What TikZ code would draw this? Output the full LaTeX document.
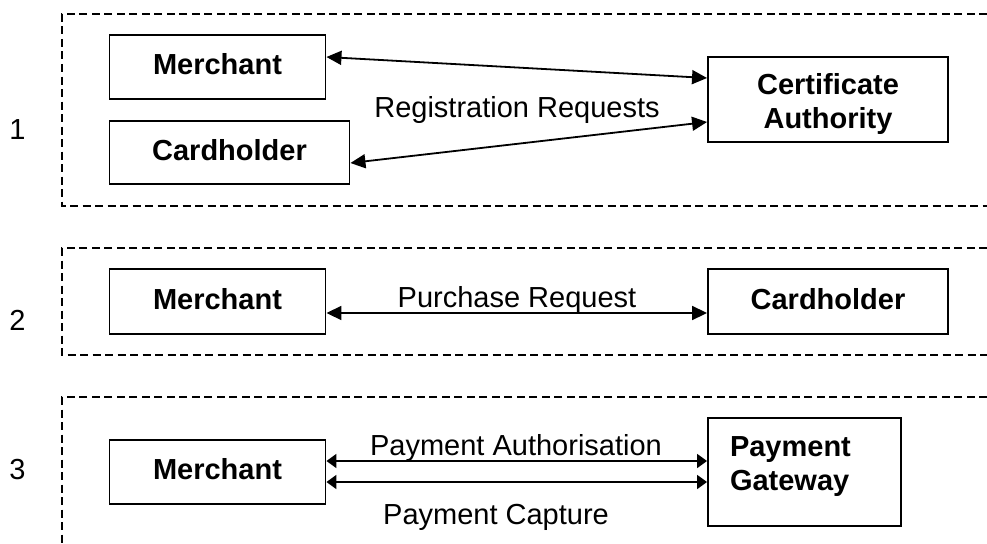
\documentclass[tikz,border=0pt]{standalone}
\usepackage{fontspec}
\setmainfont{Liberation Sans}
\usetikzlibrary{arrows.meta}

\begin{document}
\begin{tikzpicture}[x=1pt, y=-1pt,
	box/.style={draw, line width=1.9pt, inner sep=0pt, text depth=6pt,
		font=\fontsize{29}{34}\selectfont\bfseries},
	lbl/.style={anchor=base, inner sep=0pt, font=\fontsize{29}{34}\selectfont},
	groupframe/.style={line width=1.5pt, dash pattern=on 8pt off 4.5pt},
	link/.style={line width=1.8pt,
		{Triangle[length=15pt,width=14pt]}-{Triangle[length=15pt,width=14pt]}},
	link3/.style={line width=1.8pt,
		{Triangle[length=10pt,width=14pt]}-{Triangle[length=10pt,width=14pt]}}]
	\useasboundingbox (0,0) rectangle (987,543);
	
	\draw[groupframe] (987,14) -- (62,14) -- (62,206) -- (987,206);
	\draw[groupframe] (987,248) -- (62,248) -- (62,355) -- (987,355);
	\draw[groupframe] (987,397) -- (62,397) -- (62,543);
	
	\node[lbl] (n1) at (17.5,139) {1};
	\node[lbl] (n2) at (17.5,330) {2};
	\node[lbl] (n3) at (17.5,479) {3};
	
	\node[box, minimum width=216pt, minimum height=64pt] (m1) at (217.5,67) {Merchant};
	\node[box, minimum width=240pt, minimum height=63pt] (c1) at (229.5,152.5) {Cardholder};
	\node[box, minimum width=240pt, minimum height=85pt, text width=200pt, align=center,
		text height=30pt, text depth=40pt] (ca) at (828,99.5) {Certificate\\Authority};
	\node[lbl] (reg) at (517,117) {Registration Requests};
	
	\node[box, minimum width=216pt, minimum height=65pt] (m2) at (217.5,301.5) {Merchant};
	\node[box, minimum width=240pt, minimum height=65pt] (c2) at (828,301.5) {Cardholder};
	\node[lbl] (pur) at (517,307) {Purchase Request};
	
	\node[box, minimum width=216pt, minimum height=64pt] (m3) at (217.5,472) {Merchant};
	\node[box, minimum width=193pt, minimum height=108pt, text width=149pt, align=left,
		text height=21pt, text depth=53pt] (pg) at (804.5,472) {Payment\\Gateway};
	\node[lbl] (auth) at (516,455) {Payment Authorisation};
	\node[lbl] (capt) at (496,524) {Payment Capture};
	
	\draw[link] ([yshift=10pt]m1.east) -- ([yshift=21.5pt]ca.west);
	\draw[link] ([yshift=-22.5pt]ca.west) -- ([yshift=-10.5pt]c1.east);
	\draw[link] ([yshift=-11.5pt]m2.east) -- ([yshift=-11.5pt]c2.west);
	\draw[link3] ([yshift=11pt]m3.east) -- ([yshift=11pt]pg.west);
	\draw[link3] ([yshift=-10pt]m3.east) -- ([yshift=-10pt]pg.west);
\end{tikzpicture}
\end{document}
